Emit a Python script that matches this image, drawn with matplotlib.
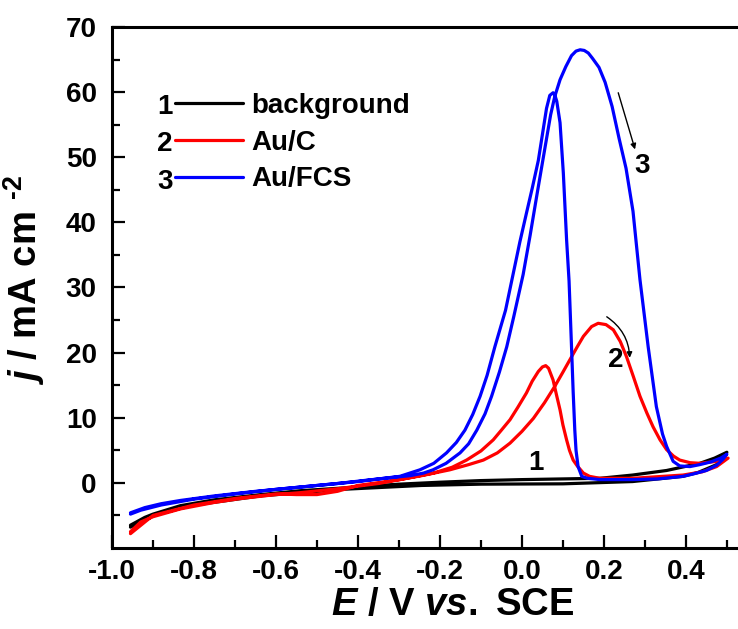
import matplotlib
matplotlib.use('Agg')
import matplotlib.pyplot as plt
import numpy as np
from matplotlib.ticker import FixedLocator, FormatStrFormatter, MultipleLocator

plt.rcParams['font.family'] = ['Liberation Sans', 'DejaVu Sans']
plt.rcParams['font.weight'] = 'bold'
plt.rcParams['axes.labelweight'] = 'bold'
plt.rcParams['mathtext.fontset'] = 'custom'
plt.rcParams['mathtext.rm'] = 'Liberation Sans:bold'
plt.rcParams['mathtext.it'] = 'Liberation Sans:italic:bold'
plt.rcParams['mathtext.bf'] = 'Liberation Sans:bold'
plt.rcParams['axes.unicode_minus'] = False

# ---------------- data (E / V vs SCE, j / mA cm-2) ----------------
bg_fwd_E = [-0.955, -0.92, -0.9, -0.833, -0.75, -0.637, -0.54, -0.44, -0.35, -0.3, -0.2, -0.1, 0.0, 0.19, 0.27, 0.353, 0.434, 0.47, 0.50]
bg_fwd_j = [-6.5, -5.3, -4.8, -3.5, -2.6, -1.8, -1.2, -0.8, -0.4, -0.2, 0.1, 0.35, 0.5, 0.7, 1.2, 1.9, 3.0, 3.8, 4.7]
bg_rev_E = [0.50, 0.475, 0.43, 0.393, 0.27, 0.1, -0.1, -0.245, -0.44, -0.637, -0.833, -0.9, -0.955]
bg_rev_j = [4.7, 2.8, 1.6, 1.0, 0.2, -0.15, -0.2, -0.4, -1.0, -2.0, -3.7, -5.0, -6.8]

auc_fwd_E = [-0.955, -0.93, -0.9, -0.833, -0.75, -0.686, -0.6, -0.54, -0.45, -0.35, -0.298, -0.245, -0.176, -0.13, -0.094,
             -0.06, -0.029, 0.0, 0.028, 0.055, 0.08, 0.1, 0.117, 0.135, 0.150, 0.170, 0.186, 0.205, 0.223, 0.24, 0.255,
             0.272, 0.288, 0.305, 0.32, 0.337, 0.353, 0.37, 0.385, 0.41, 0.434, 0.475, 0.503]
auc_fwd_j = [-7.5, -6.0, -5.2, -4.0, -3.0, -2.4, -1.8, -1.5, -0.9, -0.1, 0.5, 1.1, 2.0, 2.8, 3.5,
             4.6, 6.1, 7.9, 9.9, 12.3, 14.8, 17.0, 18.9, 20.9, 22.5, 24.0, 24.5, 24.3, 23.5, 21.7, 19.4,
             16.3, 13.3, 10.7, 8.6, 6.6, 5.1, 4.1, 3.5, 3.1, 3.0, 3.3, 3.8]
auc_rev_E = [0.503, 0.475, 0.44, 0.393, 0.271, 0.19, 0.165, 0.15, 0.135, 0.125, 0.116, 0.109, 0.1, 0.093, 0.084, 0.076,
             0.065, 0.058, 0.050, 0.040, 0.025, 0.011, -0.01, -0.029, -0.05, -0.07, -0.1, -0.135, -0.17, -0.216,
             -0.298, -0.4, -0.45, -0.5, -0.55, -0.6, -0.7, -0.8, -0.9, -0.955]
auc_rev_j = [3.8, 2.5, 1.7, 1.2, 0.7, 0.7, 1.0, 1.5, 2.6, 3.5, 5.0, 6.6, 8.9, 11.2, 13.6, 15.8,
             17.6, 18.0, 17.8, 17.1, 15.6, 13.8, 11.6, 9.7, 8.1, 6.6, 4.9, 3.5, 2.4, 1.5,
             0.5, -0.4, -1.3, -1.8, -1.8, -1.7, -2.4, -3.4, -5.0, -7.8]

aufcs_fwd_E = [-0.955, -0.92, -0.88, -0.833, -0.75, -0.65, -0.55, -0.45, -0.38, -0.32, -0.273, -0.24, -0.217, -0.185,
               -0.151, -0.13, -0.110, -0.09, -0.074, -0.055, -0.037, -0.02, 0.003, 0.02, 0.036, 0.055, 0.070, 0.080,
               0.093, 0.107, 0.121, 0.132, 0.142, 0.152, 0.162, 0.172, 0.188, 0.203, 0.220, 0.237, 0.254, 0.271, 0.288,
               0.308, 0.328, 0.343, 0.353, 0.369, 0.385, 0.41, 0.434, 0.46, 0.485, 0.50]
aufcs_fwd_j = [-4.6, -3.8, -3.2, -2.7, -2.0, -1.3, -0.7, -0.1, 0.4, 0.8, 1.1, 1.5, 2.0, 3.0,
               4.6, 6.0, 8.1, 10.6, 13.3, 17.0, 20.9, 25.5, 32.0, 38.0, 44.0, 51.0, 56.5, 59.3,
               61.9, 63.9, 65.6, 66.3, 66.5, 66.4, 66.0, 65.2, 63.8, 61.5, 57.8, 52.9, 48.3, 41.7, 31.2,
               20.9, 11.7, 7.5, 5.6, 3.3, 2.6, 2.5, 2.8, 3.2, 3.8, 4.4]
aufcs_rev_E = [0.50, 0.49, 0.475, 0.45, 0.42, 0.393, 0.33, 0.27, 0.19, 0.16, 0.146, 0.137, 0.132, 0.129, 0.125,
               0.121, 0.115, 0.109, 0.101, 0.093, 0.085, 0.080, 0.076, 0.068, 0.060, 0.050, 0.040, 0.025, 0.011,
               -0.005, -0.021, -0.040, -0.066, -0.085, -0.102, -0.12, -0.139, -0.16, -0.184, -0.215, -0.249, -0.298,
               -0.35, -0.40, -0.50, -0.60, -0.70, -0.80, -0.88, -0.93, -0.955]
aufcs_rev_j = [4.4, 3.6, 2.7, 1.9, 1.4, 1.0, 0.6, 0.5, 0.5, 0.7, 1.0, 2.5, 5.0, 8.1, 14.0,
               20.9, 31.0, 37.3, 47.6, 55.3, 58.6, 59.6, 59.9, 59.5, 57.5, 53.5, 49.5, 45.2, 41.4,
               37.0, 32.2, 26.5, 20.9, 16.5, 13.3, 10.5, 8.1, 6.2, 4.6, 3.0, 2.0, 1.0,
               0.6, 0.2, -0.4, -1.0, -1.7, -2.5, -3.4, -4.2, -4.8]

series_names = ['background', 'Au/C', 'Au/FCS']
series_nums = ['1', '2', '3']
series_colors = ['#000000', '#ff0000', '#0000ff']

# ---------------- figure ----------------
fig = plt.figure(figsize=(7.38, 6.29), dpi=100)
ax = fig.add_axes([0.1518, 0.1288, 0.848, 0.8283])

curves = [
    (bg_fwd_E + bg_rev_E, bg_fwd_j + bg_rev_j),
    (auc_fwd_E + auc_rev_E, auc_fwd_j + auc_rev_j),
    (aufcs_fwd_E + aufcs_rev_E, aufcs_fwd_j + aufcs_rev_j),
]
handles = []
for (E, j), name, col in zip(curves, series_names, series_colors):
    h, = ax.plot(E, j, color=col, lw=2.3, label=name, solid_joinstyle='round', solid_capstyle='round')
    handles.append(h)

ax.set_xlim(-1.0, 0.5268)
ax.set_ylim(-10, 70)
ax.xaxis.set_major_locator(MultipleLocator(0.2))
ax.xaxis.set_minor_locator(MultipleLocator(0.1))
ax.xaxis.set_major_formatter(FormatStrFormatter('%.1f'))
ax.yaxis.set_major_locator(FixedLocator(list(range(0, 71, 10))))
ax.yaxis.set_minor_locator(FixedLocator(list(range(-5, 70, 10))))

ax.tick_params(which='both', direction='in', top=False, right=False, width=1.6, labelsize=20)
ax.tick_params(axis='x', pad=8)
ax.tick_params(axis='y', pad=11)
ax.tick_params(which='major', length=9.5)
ax.tick_params(which='minor', length=5.5)
for s in ['left', 'bottom', 'top']:
    ax.spines[s].set_linewidth(2.2)
ax.spines['right'].set_visible(False)

ax.set_xlabel(r'$\mathit{E}$ / V $\mathit{vs.}$ SCE', fontsize=27.5)
ax.xaxis.set_label_coords(0.545, -0.074)
ax.set_ylabel(r'$\mathit{j}$ / mA cm $^{\text{-2}}$', fontsize=27.5)
ax.yaxis.set_label_coords(-0.104, 0.515)

leg = ax.legend(handles=handles, loc='upper left', bbox_to_anchor=(0.100, 0.873), frameon=False,
                fontsize=20, handlelength=2.45, handletextpad=0.3, labelspacing=0.38,
                borderpad=0, borderaxespad=0)
for num, yy in zip(series_nums, [0.846, 0.776, 0.703]):
    ax.text(0.0845, yy, num, transform=ax.transAxes, fontsize=20, ha='center', va='center')

# curve labels and arrows
ax.text(0.034, 3.0, '1', fontsize=20, ha='center', va='center')
ax.text(0.228, 18.9, '2', fontsize=20, ha='center', va='center')
ax.text(0.293, 48.6, '3', fontsize=20, ha='center', va='center')
ax.annotate('', xy=(0.263, 19.2), xytext=(0.207, 25.5),
            arrowprops=dict(arrowstyle='-|>', color='black', lw=1.0, mutation_scale=8,
                            connectionstyle='arc3,rad=-0.25', shrinkA=0, shrinkB=0))
ax.annotate('', xy=(0.276, 51.2), xytext=(0.235, 59.9),
            arrowprops=dict(arrowstyle='-|>', color='black', lw=1.0, mutation_scale=8,
                            shrinkA=0, shrinkB=0))

fig.savefig('out.png', dpi=100)
